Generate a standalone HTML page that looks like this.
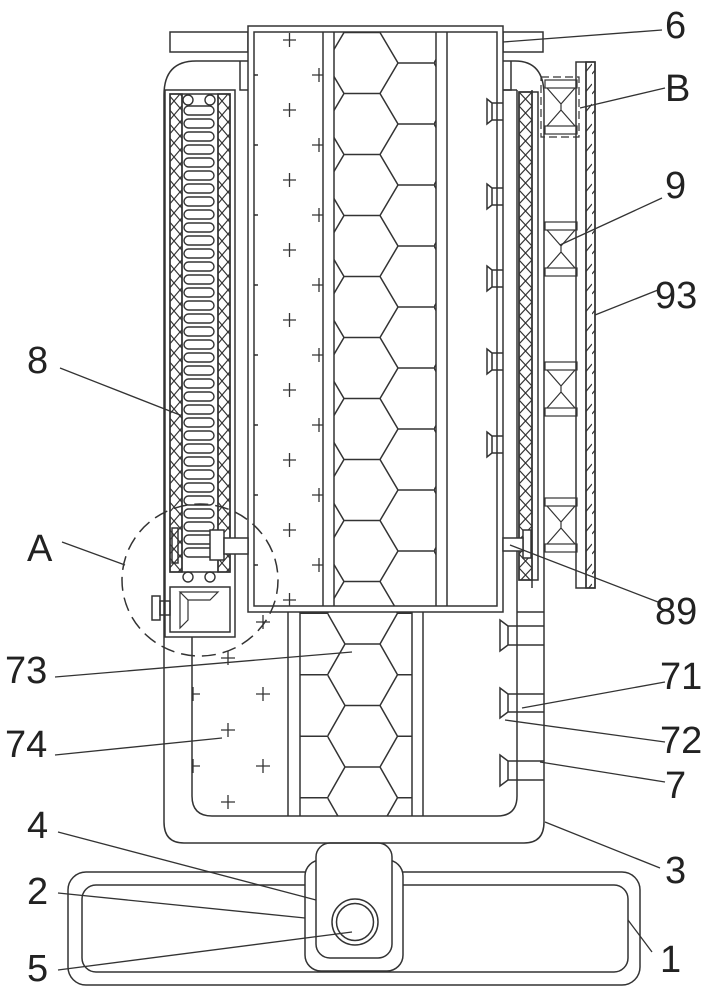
<!DOCTYPE html>
<html><head><meta charset="utf-8"><style>
html,body{margin:0;padding:0;background:#fff;}
svg{display:block;}
text{font-family:"Liberation Sans",sans-serif;font-size:38px;fill:#222;}
</style></head><body>
<svg width="719" height="1000" viewBox="0 0 719 1000" xmlns="http://www.w3.org/2000/svg">
<defs>
<pattern id="hexA" patternUnits="userSpaceOnUse" x="326" y="32.5" width="108" height="61">
<path d="M0,30.5 L18,0 L54,0 L72,30.5 L54,61 L18,61 Z M72,30.5 L108,30.5" fill="none" stroke="#333" stroke-width="1.5"/>
</pattern>
<pattern id="hexB" patternUnits="userSpaceOnUse" x="327.5" y="582.5" width="105" height="61.5">
<path d="M0,30.75 L17.5,0 L52.5,0 L70,30.75 L52.5,61.5 L17.5,61.5 Z M70,30.75 L105,30.75" fill="none" stroke="#333" stroke-width="1.5"/>
</pattern>
<pattern id="xx" patternUnits="userSpaceOnUse" x="0" y="94" width="12" height="14">
<path d="M0,0 L12,14 M12,0 L0,14" stroke="#333" stroke-width="1.2"/>
</pattern>
<pattern id="xxr" patternUnits="userSpaceOnUse" x="519" y="92" width="13" height="14">
<path d="M0,0 L13,14 M13,0 L0,14" stroke="#333" stroke-width="1.2"/>
</pattern>
<pattern id="hatch" patternUnits="userSpaceOnUse" x="0" y="0" width="8" height="20">
<path d="M0,14 L8,4" stroke="#333" stroke-width="1.2"/>
</pattern>
<pattern id="plusU" patternUnits="userSpaceOnUse" x="264" y="5" width="70" height="70">
<path d="M19,35 h13 M25.5,28 v14 M48,0 h14 M55,-7 v14 M48,70 h14 M55,63 v14" stroke="#333" stroke-width="1.3"/>
</pattern>
<pattern id="plusL" patternUnits="userSpaceOnUse" x="182" y="605" width="70" height="72">
<path d="M11,10 v14 M4,17 h14 M46,46 v14 M39,53 h14 M81,10 v14 M74,17 h14" stroke="#333" stroke-width="1.3"/>
</pattern>
</defs>
<g fill="none" stroke="#333" stroke-width="1.5">
<!-- base -->
<rect x="68" y="872" width="572" height="113" rx="18"/>
<rect x="82" y="885" width="546" height="87" rx="14"/>
<rect x="305" y="860" width="98" height="111" rx="16" fill="#fff"/>
<rect x="316" y="843" width="76" height="115" rx="14" fill="#fff"/>
<circle cx="355" cy="922" r="23"/>
<circle cx="355" cy="922" r="18.5"/>
<!-- housing -->
<path d="M248,61 L196,61 Q164,61 164,95 L164,822 Q164,843 184,843 L524,843 Q544,843 544,822 L544,95 Q544,61 515,61 L503,61"/>
<path d="M192,637 L192,796 Q192,816 212,816 L497,816 Q517,816 517,796 L517,588"/>
<!-- top bars -->
<rect x="170" y="32" width="78" height="20"/>
<rect x="503" y="32" width="40" height="20"/>
<path d="M240,61 V90 H248 M511,61 V90 H503"/>
<!-- cartridge -->
<rect x="248" y="26" width="255" height="586" fill="#fff"/>
<rect x="254" y="32" width="243" height="574"/>
<rect x="334" y="32" width="102" height="574" fill="url(#hexA)" stroke="none"/>
<path d="M323,32 V606 M334,32 V606 M436,32 V606 M447,32 V606"/>
<rect x="254" y="32" width="69" height="574" fill="url(#plusU)" stroke="none"/>
<path d="M254,75 h4 M254,145 h4 M254,215 h4 M254,285 h4 M254,355 h4 M254,425 h4 M254,495 h4 M254,565 h4"/>
<!-- lower chamber -->
<path d="M288,612 V816 M300,612 V816 M412,612 V816 M423,612 V816"/>
<rect x="300" y="612" width="112" height="204" fill="url(#hexB)" stroke="none"/>
<rect x="192" y="612" width="96" height="204" fill="url(#plusL)" stroke="none"/>
<!-- right nozzles lower -->
<path d="M517,612 h27"/>
<g><path d="M500,620 L508,626 V645 L500,651 Z M508,626 H544 M508,645 H544"/></g>
<g><path d="M500,688 L508,694 V712 L500,718 Z M508,694 H544 M508,712 H544"/></g>
<g><path d="M500,755 L508,761 V780 L500,786 Z M508,761 H544 M508,780 H544"/></g>
<!-- left chamber -->
<rect x="165" y="90" width="70" height="547" fill="#fff"/>
<rect x="170" y="94" width="60" height="478"/>
<rect x="170" y="94" width="12" height="478" fill="url(#xx)"/>
<rect x="218" y="94" width="12" height="478" fill="url(#xx)"/>
<path d="M182,94 V572 M218,94 V572"/>
<g stroke-width="1.4">
<circle cx="188" cy="100" r="5"/><circle cx="210" cy="100" r="5"/>
<circle cx="188" cy="577" r="5"/><circle cx="210" cy="577" r="5"/>
</g>
<g stroke-width="1.4">
<rect x="184" y="106" width="30" height="9" rx="4.5"/><rect x="184" y="119" width="30" height="9" rx="4.5"/><rect x="184" y="132" width="30" height="9" rx="4.5"/><rect x="184" y="145" width="30" height="9" rx="4.5"/><rect x="184" y="158" width="30" height="9" rx="4.5"/><rect x="184" y="171" width="30" height="9" rx="4.5"/><rect x="184" y="184" width="30" height="9" rx="4.5"/><rect x="184" y="197" width="30" height="9" rx="4.5"/><rect x="184" y="210" width="30" height="9" rx="4.5"/><rect x="184" y="223" width="30" height="9" rx="4.5"/><rect x="184" y="236" width="30" height="9" rx="4.5"/><rect x="184" y="249" width="30" height="9" rx="4.5"/><rect x="184" y="262" width="30" height="9" rx="4.5"/><rect x="184" y="275" width="30" height="9" rx="4.5"/><rect x="184" y="288" width="30" height="9" rx="4.5"/><rect x="184" y="301" width="30" height="9" rx="4.5"/><rect x="184" y="314" width="30" height="9" rx="4.5"/><rect x="184" y="327" width="30" height="9" rx="4.5"/><rect x="184" y="340" width="30" height="9" rx="4.5"/><rect x="184" y="353" width="30" height="9" rx="4.5"/><rect x="184" y="366" width="30" height="9" rx="4.5"/><rect x="184" y="379" width="30" height="9" rx="4.5"/><rect x="184" y="392" width="30" height="9" rx="4.5"/><rect x="184" y="405" width="30" height="9" rx="4.5"/><rect x="184" y="418" width="30" height="9" rx="4.5"/><rect x="184" y="431" width="30" height="9" rx="4.5"/><rect x="184" y="444" width="30" height="9" rx="4.5"/><rect x="184" y="457" width="30" height="9" rx="4.5"/><rect x="184" y="470" width="30" height="9" rx="4.5"/><rect x="184" y="483" width="30" height="9" rx="4.5"/><rect x="184" y="496" width="30" height="9" rx="4.5"/><rect x="184" y="509" width="30" height="9" rx="4.5"/><rect x="184" y="522" width="30" height="9" rx="4.5"/><rect x="184" y="535" width="30" height="9" rx="4.5"/><rect x="184" y="548" width="30" height="9" rx="4.5"/>
</g>
<rect x="210" y="530" width="14" height="30" fill="#fff"/>
<rect x="172" y="528" width="6" height="35"/>
<rect x="224" y="538" width="24" height="16" fill="#fff"/>
<rect x="170" y="587" width="60" height="45"/>
<path d="M180,592 H218 L210,600 H188 Z M180,592 V628 L188,620 V600" stroke-width="1.2"/>
<rect x="152" y="596" width="8" height="24"/><rect x="160" y="601" width="10" height="14"/>
<!-- right chamber -->
<path d="M503,90 H517 M517,90 V588 M532,90 V588" />
<rect x="519" y="92" width="13" height="488" fill="url(#xxr)"/>
<rect x="519" y="92" width="19" height="488"/>
<rect x="523" y="530" width="8" height="28" fill="#fff"/>
<rect x="503" y="538" width="20" height="13" fill="#fff"/>
<g>
<path d="M487,99 L492,103 V120 L487,124 Z M492,103 H503 M492,120 H503"/>
<path d="M487,184 L492,188 V205 L487,209 Z M492,188 H503 M492,205 H503"/>
<path d="M487,266 L492,270 V287 L487,291 Z M492,270 H503 M492,287 H503"/>
<path d="M487,349 L492,353 V370 L487,374 Z M492,353 H503 M492,370 H503"/>
<path d="M487,432 L492,436 V453 L487,457 Z M492,436 H503 M492,453 H503"/>
</g>
<!-- plate 93 -->
<rect x="576" y="62" width="19" height="526" />
<rect x="586" y="62" width="9" height="526" fill="url(#hatch)"/>
<line x1="586" y1="62" x2="586" y2="588"/>
<!-- spring units 9 -->
<g stroke-width="1.2">
<g><rect x="545" y="80" width="32" height="8"/><rect x="545" y="126" width="32" height="8"/><path d="M547,88 L561,104 L575,88 M547,126 L561,110 L575,126 M561,104 V110"/></g>
<rect x="541" y="77" width="38" height="60" stroke-dasharray="8,4"/>
<g transform="translate(0,142)"><rect x="545" y="80" width="32" height="8"/><rect x="545" y="126" width="32" height="8"/><path d="M547,88 L561,104 L575,88 M547,126 L561,110 L575,126 M561,104 V110"/></g>
<g transform="translate(0,282)"><rect x="545" y="80" width="32" height="8"/><rect x="545" y="126" width="32" height="8"/><path d="M547,88 L561,104 L575,88 M547,126 L561,110 L575,126 M561,104 V110"/></g>
<g transform="translate(0,418)"><rect x="545" y="80" width="32" height="8"/><rect x="545" y="126" width="32" height="8"/><path d="M547,88 L561,104 L575,88 M547,126 L561,110 L575,126 M561,104 V110"/></g>
</g>
<!-- dashed circle A -->
<ellipse cx="200" cy="580" rx="78" ry="76" stroke-dasharray="14,7"/>
<!-- leaders -->
<g stroke-width="1.3">
<path d="M662,30 L503,42"/>
<path d="M665,88 L580,108"/>
<path d="M662,198 L560,245"/>
<path d="M658,290 L595,315"/>
<path d="M60,368 L180,415"/>
<path d="M62,542 L125,565"/>
<path d="M658,602 L510,545"/>
<path d="M55,677 L352,652"/>
<path d="M665,682 L522,708"/>
<path d="M665,742 L505,720"/>
<path d="M55,755 L222,738"/>
<path d="M665,782 L540,762"/>
<path d="M660,868 L545,822"/>
<path d="M652,952 L628,920"/>
<path d="M58,832 L316,900"/>
<path d="M58,893 L305,918"/>
<path d="M58,970 L352,932"/>
</g>
</g>
<text x="665" y="38">6</text>
<text x="665" y="101">B</text>
<text x="665" y="198">9</text>
<text x="655" y="308">93</text>
<text x="27" y="373">8</text>
<text x="27" y="561">A</text>
<text x="655" y="624">89</text>
<text x="5" y="683">73</text>
<text x="660" y="689">71</text>
<text x="660" y="753">72</text>
<text x="5" y="757">74</text>
<text x="665" y="798">7</text>
<text x="27" y="838">4</text>
<text x="665" y="883">3</text>
<text x="27" y="904">2</text>
<text x="660" y="972">1</text>
<text x="27" y="981">5</text>
</svg>
</body></html>
